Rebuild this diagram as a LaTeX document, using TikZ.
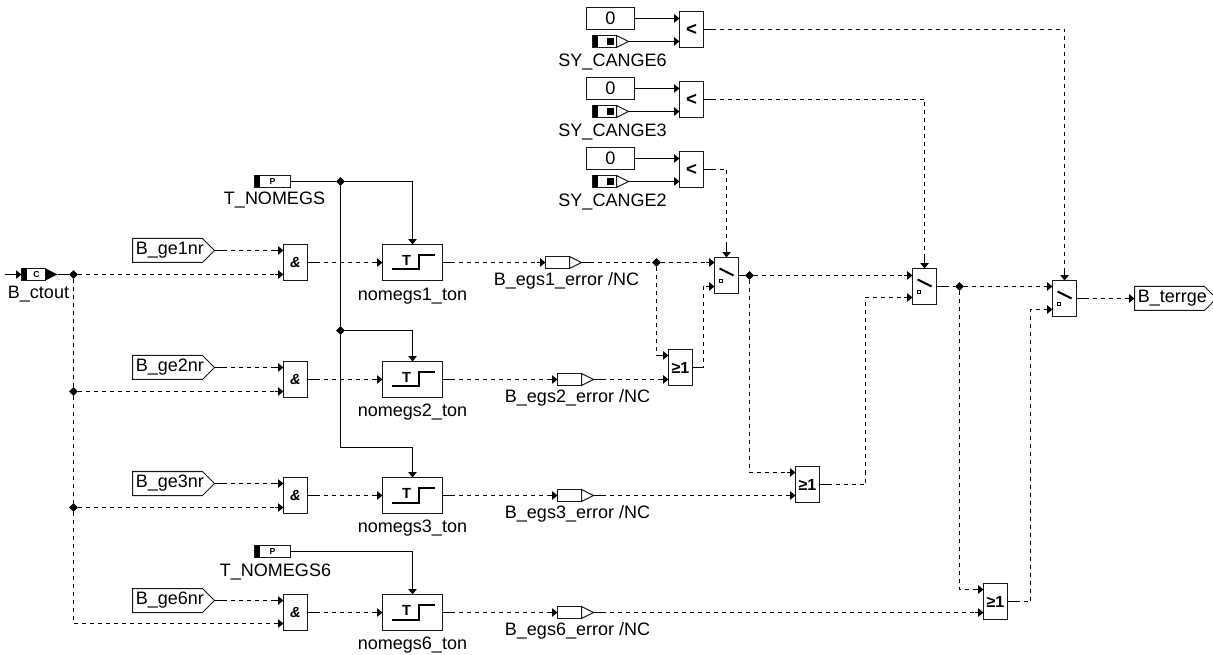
\documentclass[tikz,border=0pt]{standalone}
\usepackage{fontspec}
\setmainfont{Liberation Sans}
\usetikzlibrary{arrows.meta,shapes.geometric,shapes.symbols,calc}
\newcommand{\ptxt}[1]{\hspace*{2.5pt}\raisebox{-1.3pt}{#1}}
\tikzset{
  wire/.style={line width=0.75pt,draw=black},
  sig/.style={wire,dash pattern=on 3pt off 3pt},
  tip/.style={-{Triangle[length=4pt,width=6.2pt,fill=black]}},
  boxsize/.style 2 args={minimum width=#1*0.75pt,minimum height=#2*0.75pt,inner sep=0pt,outer sep=0pt},
  block/.style 2 args={draw=black!90,line width=0.75pt,fill=white,boxsize={#1}{#2}},
  andb/.style={block={24}{36}},
  tonb/.style={block={60}{36}},
  orb/.style={block={24}{36}},
  swb/.style={block={24}{36}},
  ltb/.style={block={24}{36}},
  zerob/.style={block={48}{22},font=\fontsize{13.6}{15}\selectfont},
  junc/.style={diamond,fill=black,inner sep=0pt,outer sep=0pt,minimum size=6.5pt},
  txt/.style={font=\fontsize{13.5}{15}\selectfont,inner sep=0pt,yshift=-1.2pt},
  pent/.style={signal,signal to=east,signal from=nowhere,signal pointer angle=90,draw=black!90,line width=0.75pt,
    fill=white,inner sep=0pt,outer sep=0pt,minimum height=18pt,text width=#1*0.75pt,align=left,
    font=\fontsize{13.5}{15}\selectfont},
  sym/.style={font=\fontsize{11}{12}\bfseries\selectfont,inner sep=0pt},
  mini/.style={font=\fontsize{6.5}{7}\bfseries\selectfont,inner sep=0pt}
}
\begin{document}
\begin{tikzpicture}[x=0.75pt,y=-0.75pt]
\useasboundingbox (0,0) rectangle (1213,655);
\begin{scope}[shift={(0.5,0.5)}]
% --- functional blocks
\foreach \n/\y in {1/262,2/379,3/495,4/612}{
  \node[andb] (and\n) at (295,\y) {};
  \node[sym,font=\fontsize{11}{12}\bfseries\itshape\selectfont] at (295,\y) {\&};
  \node[tonb] (ton\n) at (412,\y) {};
  \draw[line width=1.5pt] ($(ton\n.north west)+(9.5,25)$) -- ++(26.5,0) -- ++(0,-14.5) -- ++(16,0);
  \node[sym] at ($(ton\n.north west)+(24,15.5)$) {T};
}
\node[txt] (tl1) at (412,294) {nomegs1\_ton};
\node[txt] (tl2) at (412,410) {nomegs2\_ton};
\node[txt] (tl3) at (412,526) {nomegs3\_ton};
\node[txt] (tl4) at (412,643) {nomegs6\_ton};
% inputs
\node[pent=70,anchor=west] (ge1) at (132,250) {\ptxt{B\_ge1nr}};
\node[pent=70,anchor=west] (ge2) at (132,367) {\ptxt{B\_ge2nr}};
\node[pent=70,anchor=west] (ge3) at (132,483) {\ptxt{B\_ge3nr}};
\node[pent=70,anchor=west] (ge6) at (132,600) {\ptxt{B\_ge6nr}};
% B_ctout
\node[block={24}{12}] (ct) at (33,274) {};
\fill ($(ct.north west)$) rectangle ($(ct.south west)+(5,0)$);
\fill ($(ct.north east)$) -- ($(ct.east)+(12,0)$) -- ($(ct.south east)$) -- cycle;
\node[mini] at (36,274) {C};
\coordinate (ctin) at (4,274);
\coordinate (ctout) at (57,274);
\node[txt] (ctl) at (38,292) {B\_ctout};
% T blocks
\node[block={36}{12}] (tn) at (272,181) {};
\fill (tn.north west) rectangle ($(tn.south west)+(5,0)$);
\node[mini] at (272,181) {P};
\node[txt] (tnl) at (274,198) {T\_NOMEGS};
\node[block={36}{12}] (tn6) at (272,551) {};
\fill (tn6.north west) rectangle ($(tn6.south west)+(5,0)$);
\node[mini] at (272,551) {P};
\node[txt] (tn6l) at (275,570) {T\_NOMEGS6};
% error message blocks
\foreach \n/\x/\y in {e1/545/262,e2/557/379,e3/557/495,e6/557/612}{
  \node[block={24}{12},anchor=west] (\n) at (\x,\y) {};
  \draw[draw=black!90,line width=0.75pt,fill=white] (\n.north east) -- ($(\n.east)+(12,0)$) -- (\n.south east) -- cycle;
  \coordinate (\n o) at ($(\n.east)+(12,0)$);
}
\node[txt] (e1l) at (566,279) {B\_egs1\_error /NC};
\node[txt] (e2l) at (577,396) {B\_egs2\_error /NC};
\node[txt] (e3l) at (577,512) {B\_egs3\_error /NC};
\node[txt] (e6l) at (577,629) {B\_egs6\_error /NC};
% top comparators
\foreach \n/\yc/\lbl in {6/29/SY\_CANGE6,3/99/SY\_CANGE3,2/169/SY\_CANGE2}{
  \node[ltb] (lt\n) at (691,\yc) {};
  \node[sym,font=\fontsize{14}{14}\bfseries\selectfont] at (691,\yc) {<};
  \node[zerob] (z\n) at (610,\yc-11) {0};
  \node[block={24}{12},anchor=west] (sy\n) at (592,\yc+12) {};
  \fill (sy\n.north west) rectangle ($(sy\n.south west)+(5.5,0)$);
  \fill ($(sy\n.west)+(14,-3.5)$) rectangle ($(sy\n.west)+(21,3.5)$);
  \draw[draw=black!90,line width=0.75pt,fill=white] (sy\n.north east) -- ($(sy\n.east)+(12,0)$) -- (sy\n.south east) -- cycle;
  \coordinate (sy\n o) at ($(sy\n.east)+(12,0)$);
  \node[txt] (syl\n) at (612,\yc+31) {\lbl};
  \coordinate (lt\n a) at (679,\yc-11);
  \coordinate (lt\n b) at (679,\yc+12);
}
% switches
\foreach \n/\x/\y in {s1/726/275,s2/924/286,s3/1064/298}{
  \node[swb] (\n) at (\x,\y) {};
  \draw[line width=1.5pt] ($(\n.north west)+(5,11)$) -- ($(\n.north west)+(19,18)$);
  \draw[line width=0.6pt] ($(\n.north west)+(5,22)$) rectangle ($(\n.north west)+(8,25)$);
}
\node[pent=70,anchor=west] (term) at (1134,298) {\ptxt{B\_terrge}};
% ORs
\foreach \n/\x/\y in {o1/680/367,o2/807/484,o3/995/601}{
  \node[orb] (\n) at (\x,\y) {};
  \node[sym,font=\fontsize{12}{12}\bfseries\selectfont] at (\x,\y) {≥1};
}
% junctions
\node[junc] (jct) at (73,274) {};
\node[junc] (jc2) at (73,391) {};
\node[junc] (jc3) at (73,507) {};
\node[junc] (jt1) at (340,181) {};
\node[junc] (jt2) at (340,330) {};
\node[junc] (js1) at (656,262) {};
\node[junc] (js2) at (749,275) {};
\node[junc] (js3) at (959,286) {};
% ports
\coordinate (a1a) at (283,250); \coordinate (a1b) at (283,274);
\coordinate (a2a) at (283,367); \coordinate (a2b) at (283,391);
\coordinate (a3a) at (283,483); \coordinate (a3b) at (283,507);
\coordinate (a4a) at (283,600); \coordinate (a4b) at (283,623);
\coordinate (o1a) at (668,355); \coordinate (o1b) at (668,379);
\coordinate (o2a) at (795,472); \coordinate (o2b) at (795,495);
\coordinate (o3a) at (983,589); \coordinate (o3b) at (983,612);
\coordinate (s1a) at (714,262); \coordinate (s1b) at (714,286);
\coordinate (s2a) at (912,275); \coordinate (s2b) at (912,297);
\coordinate (s3a) at (1052,286); \coordinate (s3b) at (1052,309);
\coordinate (cb) at (73,623);
\coordinate (t3) at (412,447);
\coordinate (o1k) at (703,367);
\coordinate (o2k) at (865,484);
\coordinate (o3k) at (1030,601);
% solid connectors
\draw[wire,tip] (ctin) -- (ct.west);
\draw[wire] (ctout) -- (jct);
\draw[wire] (tn.east) -- (jt1);
\draw[wire,tip] (jt1) -| (ton1.north);
\draw[wire] (jt1) -- (jt2);
\draw[wire,tip] (jt2) -| (ton2.north);
\draw[wire,tip] (jt2) |- (t3) -- (ton3.north);
\draw[wire,tip] (tn6.east) -| (ton4.north);
\foreach \n in {6,3,2}{
  \draw[wire,tip] (z\n.east) -- (lt\n a);
  \draw[wire,tip] (sy\n o) -- (lt\n b);
}
% dashed connectors
\draw[sig,tip] (ge1.east) -- (a1a);
\draw[sig,tip] (ge2.east) -- (a2a);
\draw[sig,tip] (ge3.east) -- (a3a);
\draw[sig,tip] (ge6.east) -- (a4a);
\draw[sig,tip] (jct) -- (a1b);
\draw[sig,tip] (jc2) -- (a2b);
\draw[sig,tip] (jc3) -- (a3b);
\draw[sig,tip] (cb) -- (a4b);
\draw[sig] (jct) -- (jc2);
\draw[sig] (jc2) -- (jc3);
\draw[sig] (jc3) -- (cb);
\foreach \n in {1,2,3,4}{ \draw[sig,tip] (and\n.east) -- (ton\n.west); }
\draw[sig,tip] (ton1.east) -- (e1.west);
\draw[sig,tip] (ton2.east) -- (e2.west);
\draw[sig,tip] (ton3.east) -- (e3.west);
\draw[sig,tip] (ton4.east) -- (e6.west);
\draw[sig] (e1o) -- (js1);
\draw[sig,tip] (js1) -- (s1a);
\draw[sig,tip] (js1) |- (o1a);
\draw[sig,tip] (e2o) -- (o1b);
\draw[sig,tip] (o1.east) -- (o1k) |- (s1b);
\draw[sig] (s1.east) -- (js2);
\draw[sig,tip] (js2) -- (s2a);
\draw[sig,tip] (js2) |- (o2a);
\draw[sig,tip] (e3o) -- (o2b);
\draw[sig,tip] (o2.east) -- (o2k) |- (s2b);
\draw[sig] (s2.east) -- (js3);
\draw[sig,tip] (js3) -- (s3a);
\draw[sig,tip] (js3) |- (o3a);
\draw[sig,tip] (e6o) -- (o3b);
\draw[sig,tip] (o3.east) -- (o3k) |- (s3b);
\draw[sig,tip] (s3.east) -- (term.west);
\draw[sig,tip] (lt6.east) -| (s3.north);
\draw[sig,tip] (lt3.east) -| (s2.north);
\draw[sig,tip] (lt2.east) -| (s1.north);
% solid ends next to the arrowheads and sources
\foreach \p in {ton1.west,ton2.west,ton3.west,ton4.west,e1.west,e2.west,e3.west,e6.west,a1a,a1b,a2a,a2b,a3a,a3b,a4a,a4b,o1a,o1b,o2a,o2b,o3a,o3b,s1a,s1b,s2a,s2b,s3a,s3b,term.west}{
  \draw[wire] ($(\p)+(-9,0)$) -- (\p);
}
\foreach \p in {s1.north,s2.north,s3.north}{ \draw[wire] ($(\p)+(0,-12)$) -- (\p); }
\foreach \p in {ge1.east,ge2.east,ge3.east,ge6.east,and1.east,and2.east,and3.east,and4.east,ton1.east,ton2.east,ton3.east,ton4.east,e1o,e2o,e3o,e6o,o1.east,o2.east,o3.east,s1.east,s2.east,s3.east,lt6.east,lt3.east,lt2.east}{
  \draw[wire] (\p) -- ($(\p)+(8,0)$);
}
\end{scope}
\end{tikzpicture}
\end{document}
